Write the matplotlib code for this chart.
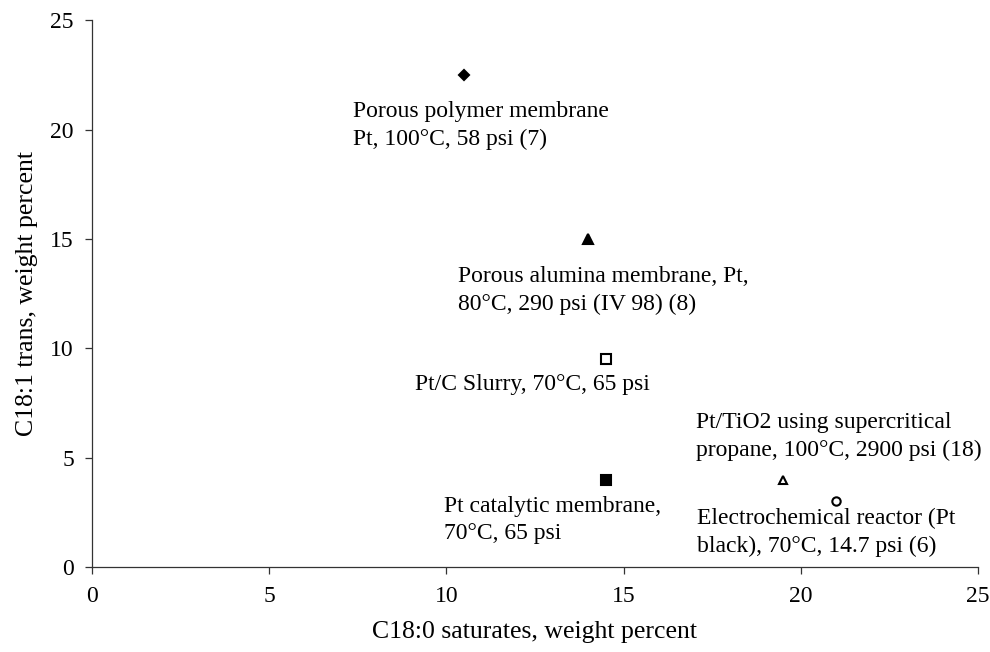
#!/usr/bin/env python3
"""
Trans vs saturates scatter for several hydrogenation catalysts / reactors.
"""

import matplotlib.pyplot as plt

plt.rcParams["font.family"] = ["Liberation Serif", "DejaVu Serif"]

# ─── Data ───
sat_pct = [10.5, 14.0, 14.5, 14.5, 19.5, 21.0]
trans_pct = [22.5, 15.0, 9.5, 4.0, 4.0, 3.0]
labels = [
    "Porous polymer membrane\nPt, 100°C, 58 psi (7)",
    "Porous alumina membrane, Pt,\n80°C, 290 psi (IV 98) (8)",
    "Pt/C Slurry, 70°C, 65 psi",
    "Pt catalytic membrane,\n70°C, 65 psi",
    "Pt/TiO2 using supercritical\npropane, 100°C, 2900 psi (18)",
    "Electrochemical reactor (Pt\nblack), 70°C, 14.7 psi (6)",
]
x_ticks = [0, 5, 10, 15, 20, 25]
y_ticks = [0, 5, 10, 15, 20, 25]

# ─── Styles / layout ───
markers = ["D", "^", "s", "s", "^", "o"]
filled = [True, True, False, True, False, False]
msizes = [5.5, 7.5, 6.5, 6.5, 6.0, 6.0]
label_pos = [(7.36, 20.2), (10.33, 12.65), (9.11, 8.33),
             (9.93, 2.15), (17.04, 5.95), (17.07, 1.6)]

fig = plt.figure(figsize=(9.9, 6.52), dpi=100)
ax = fig.add_axes([0.0929, 0.1304, 0.895, 0.8382])

for x, y, m, f, s in zip(sat_pct, trans_pct, markers, filled, msizes):
    ax.plot(x, y, marker=m, markersize=s, linestyle="none",
            markerfacecolor="black" if f else "white",
            markeredgecolor="black", markeredgewidth=1.5, zorder=3)

for (lx, ly), txt in zip(label_pos, labels):
    ax.text(lx, ly, txt, ha="left", va="center", fontsize=17,
            linespacing=1.42, color="black")

ax.set_xlim(0, 25)
ax.set_ylim(0, 25)
ax.set_xticks(x_ticks)
ax.set_yticks(y_ticks)
ax.tick_params(direction="out", length=5, width=0.9, labelsize=17,
               colors="#333333", labelcolor="black")
ax.tick_params(axis="y", pad=8)
ax.tick_params(axis="x", pad=9)

for side in ["top", "right"]:
    ax.spines[side].set_visible(False)
for side in ["left", "bottom"]:
    ax.spines[side].set_linewidth(0.9)
    ax.spines[side].set_color("#333333")

ax.set_xlabel("C18:0 saturates, weight percent", fontsize=18.5, labelpad=10)
ax.set_ylabel("C18:1 trans, weight percent", fontsize=18.5, labelpad=9)

fig.savefig("out.png", dpi=100, facecolor="white")
plt.close(fig)
